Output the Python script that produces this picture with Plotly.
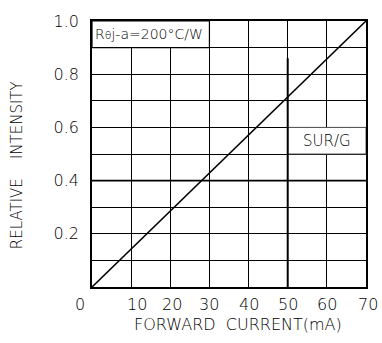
import plotly.graph_objects as go

# Data
current_ma = [0, 70]
rel_intensity = [0.0, 1.0]

x_tick_vals = [0, 10, 20, 30, 40, 50, 60, 70]
x_tick_text = ["0", "10", "20", "30", "40", "50", "60", "70"]
y_tick_vals = [0.2, 0.4, 0.6, 0.8, 1.0]
y_tick_text = ["0.2", "0.4", "0.6", "0.8", "1.0"]

FONT = "DejaVu Sans"
TXT = "#000000"
WGT = 300

fig = go.Figure()
fig.add_trace(go.Scatter(x=current_ma, y=rel_intensity, mode="lines",
                         line=dict(color="black", width=1.6),
                         hoverinfo="skip", showlegend=False))

fig.update_layout(
    width=382, height=343,
    margin=dict(l=92, r=16, t=14, b=56),
    paper_bgcolor="white", plot_bgcolor="white",
    xaxis=dict(range=[0, 70], dtick=10, showgrid=True, gridcolor="black", gridwidth=1,
               showline=True, linecolor="black", linewidth=1.5, mirror=True,
               showticklabels=False, zeroline=False, ticks=""),
    yaxis=dict(range=[0, 1], showgrid=True, gridcolor="black", gridwidth=1,
               showline=True, linecolor="black", linewidth=1.5, mirror=True,
               tickvals=y_tick_vals, ticktext=y_tick_text, ticks="",
               ticklabelstandoff=8,
               tickfont=dict(family=FONT, size=16, color=TXT, weight=WGT), zeroline=False),
    font=dict(family=FONT, color=TXT),
)
fig.update_yaxes(minor=dict(dtick=0.1, showgrid=True, gridcolor="black", gridwidth=1, tick0=0))

shapes = []
shapes.append(dict(type="rect", xref="x", yref="y", x0=0, x1=30, y0=0.9, y1=1.0,
                   fillcolor="white", line=dict(color="black", width=1.2), layer="above"))
shapes.append(dict(type="rect", xref="x", yref="y", x0=50, x1=70, y0=0.5, y1=0.6,
                   fillcolor="white", line=dict(color="#555", width=1), layer="above"))
shapes.append(dict(type="line", xref="x", yref="y", x0=0, x1=70, y0=0.4, y1=0.4,
                   line=dict(color="black", width=1.8), layer="above"))
shapes.append(dict(type="line", xref="x", yref="y", x0=50, x1=50, y0=0, y1=0.86,
                   line=dict(color="black", width=2), layer="above"))
fig.update_layout(shapes=shapes)

W, H = 382, 343
L, R, T, B = 92, 16, 14, 56
pw, ph = W - L - R, H - T - B

ann = []
ann.append(dict(x=0, y=0.95, xref="x", yref="y", text="R<span style='font-size:11px'>θ</span>j-a=200°C/W",
                showarrow=False, xanchor="left", yanchor="middle", xshift=1,
                font=dict(family=FONT, size=14, color=TXT, weight=WGT)))
ann.append(dict(x=60, y=0.55, xref="x", yref="y", text="SUR/G",
                showarrow=False, xanchor="center", yanchor="middle",
                font=dict(family=FONT, size=15, color=TXT, weight=WGT)))
x_shifts = [-12, 6, 2, 0, 0, 0, 0, 2]
for v, t, s in zip(x_tick_vals, x_tick_text, x_shifts):
    ann.append(dict(x=v, y=0, xref="x", yref="paper", text=t, showarrow=False,
                    xanchor="center", yanchor="middle", xshift=s, yshift=-17,
                    font=dict(family=FONT, size=16, color=TXT, weight=WGT)))
ann.append(dict(x=(238 - L) / pw, y=(H - B - 325) / ph, xref="paper", yref="paper",
                text="FORWARD\u00a0\u00a0CURRENT(mA)", xanchor="center", yanchor="middle",
                showarrow=False, font=dict(family=FONT, size=16, color=TXT, weight=WGT)))
ann.append(dict(x=(17 - L) / pw, y=(H - B - 162) / ph, xref="paper", yref="paper",
                text="RELATIVE\u00a0\u00a0\u00a0\u00a0INTENSITY", xanchor="center", yanchor="middle",
                showarrow=False, textangle=-90, font=dict(family=FONT, size=15, color=TXT, weight=WGT)))
fig.update_layout(annotations=ann)

fig.write_html("out.html")
